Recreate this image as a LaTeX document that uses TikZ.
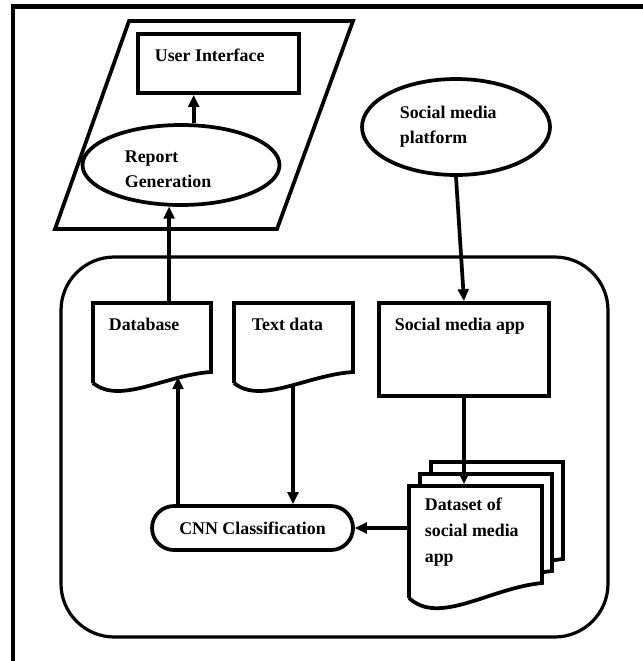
\documentclass[tikz,border=0pt]{standalone}
\usepackage{fontspec}
\setmainfont{Liberation Serif}
\usetikzlibrary{arrows.meta}
\usetikzlibrary{positioning}
\usetikzlibrary{shapes.geometric}
\usetikzlibrary{shapes.misc}
\tikzstyle{chart}=[x=0.75pt, y=-0.75pt, line width=2.8pt, font=\bfseries\fontsize{13.4}{18.75}\selectfont]
\tikzstyle{box}=[draw, rectangle, inner sep=0pt]
\tikzstyle{oval}=[draw, ellipse, inner sep=0pt]
\tikzstyle{pill}=[draw, rounded rectangle, inner sep=0pt]
\tikzstyle{hold}=[rectangle, inner sep=0pt]
\tikzstyle{txt}=[anchor=base west, inner sep=0pt, align=left]
\tikzstyle{doc}=[fill=white]
\tikzstyle{flow}=[-{Triangle[length=9pt,width=8pt]}]

\begin{document}
\begin{tikzpicture}[chart]
    \useasboundingbox (0,0) rectangle (643,661);
    % frame
    \draw[line width=3.4pt] (643,6.5) -- (13,6.5) -- (13,661);

    % output side
    \draw (129,21) -- (353,21) -- (277,229) -- (55,229) -- cycle;
    \node[box, minimum width=120.75pt, minimum height=44.25pt] (ui) at (218.5,63.5) {};
    \node[txt] (uit) at (153,61) {User Interface};
    \node[oval, minimum width=147.75pt, minimum height=60pt] (rg) at (181,165) {};
    \node[txt] (rgt) at (123,187) {Report\\Generation};
    \draw[flow] (rg.73) -- (rg.73 |- ui.south);

    % source
    \node[oval, minimum width=141pt, minimum height=72pt] (smp) at (456,127) {};
    \node[txt] (smpt) at (398,143) {Social media\\platform};

    % processing block
    \node[draw, line width=2.4pt, rounded corners=40pt, minimum width=410.25pt, minimum height=285pt] (grp) at (334.5,447) {};

    \draw (93,383) -- (93,303) -- (211,303) -- (211,372) .. controls (165,375) and (120,405) .. (93,383);
    \node[hold, minimum width=88.5pt, minimum height=60pt] (db) at (152,343) {};
    \coordinate (dbw) at (178,377);
    \node[txt] (dbt) at (107,330) {Database};

    \draw (234,383) -- (234,303) -- (353,303) -- (353,372) .. controls (307,375) and (261,405) .. (234,383);
    \coordinate (tdw) at (293,386);
    \node[txt] (tdt) at (250,330) {Text data};

    \node[box, minimum width=127.5pt, minimum height=69.75pt] (sma) at (464,349.5) {};
    \node[txt] (smat) at (393,330) {Social media app};

    \draw[doc] (431,574) -- (431,462) -- (563,462) -- (563,559) .. controls (511,564) and (461,602) .. (431,574);
    \draw[doc] (420,586) -- (420,474) -- (552,474) -- (552,571) .. controls (500,576) and (450,614) .. (420,586);
    \draw[doc] (409,598) -- (409,486) -- (542,486) -- (542,583) .. controls (490,588) and (439,626) .. (409,598);
    \node[hold, minimum width=99.75pt, minimum height=84pt] (ds) at (475.5,542) {};
    \node[txt, font=\bfseries\fontsize{13.4}{19.5}\selectfont] (dst) at (423,562) {Dataset of\\social media\\app};

    \node[pill, minimum width=150.75pt, minimum height=33pt] (cnn) at (252.5,528) {CNN Classification};

    % connectors
    \draw[flow] (smp.south) -- (sma.north);
    \draw[flow] (sma.south) -- (sma.south |- ds.north);
    \draw[flow] (cnn.east -| ds.west) -- (cnn.east);
    \draw[flow] (tdw) -- (tdw |- cnn.north);
    \draw[flow] (dbw |- cnn.north) -- (dbw);
    \draw[flow] (rg.254 |- db.north) -- (rg.254);
\end{tikzpicture}
\end{document}
